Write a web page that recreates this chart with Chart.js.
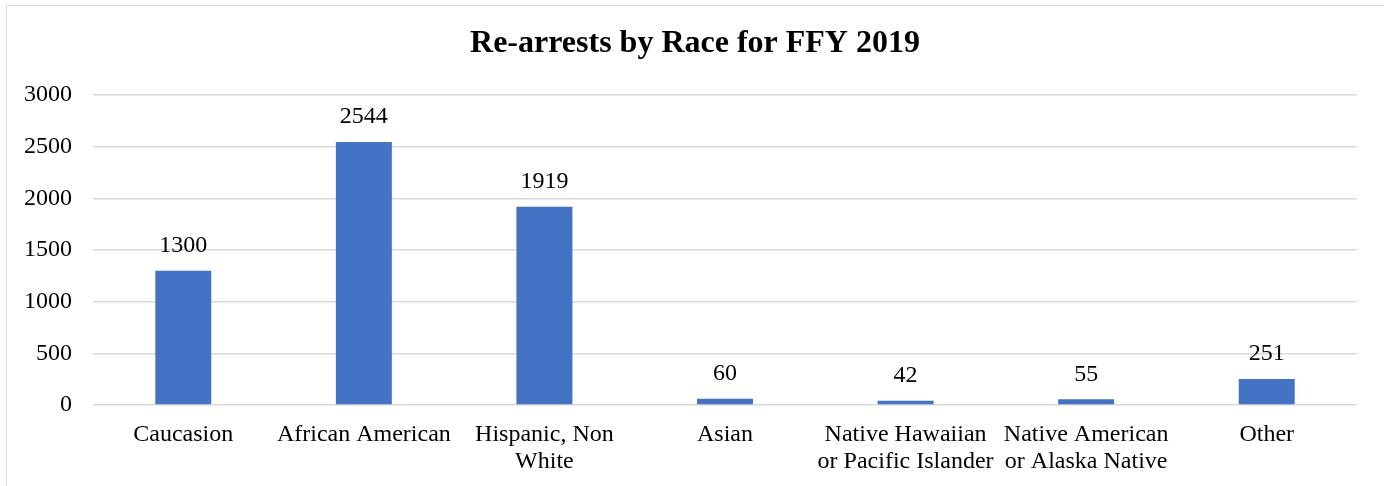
<!DOCTYPE html>
<html>
<head>
<meta charset="utf-8">
<script src="https://cdn.jsdelivr.net/npm/chart.js@4"></script>
<style>
  body { margin: 0; background: #fff; }
  #frame { position: absolute; left: 6px; top: 5px; width: 1400px; height: 520px; border: 1px solid #d9d9d9; }
  #wrap { position: absolute; left: 0; top: 0; width: 1384px; height: 486px; }
</style>
</head>
<body>
<div id="frame"></div>
<div id="wrap"><canvas id="myChart"></canvas></div>
<script>
'use strict';

// chart data

let categories = [
  'Caucasion',
  'African American',
  ['Hispanic, Non', 'White'],
  'Asian',
  ['Native Hawaiian', 'or Pacific Islander'],
  ['Native American', 'or Alaska Native'],
  'Other'
];
let rearrests = [1300, 2544, 1919, 60, 42, 55, 251];
let yTicks = [0, 500, 1000, 1500, 2000, 2500, 3000];
let chartTitle = 'Re-arrests by Race for FFY 2019';

const serif = "'Liberation Serif', 'Times New Roman', serif";

// title across the whole frame, plus the value above each bar
const valueLabels = {
  id: 'valueLabels',
  afterDatasetsDraw(chart) {
    const ctx = chart.ctx;
    const meta = chart.getDatasetMeta(0);
    ctx.save();
    ctx.fillStyle = '#000';
    ctx.textAlign = 'center';
    ctx.textBaseline = 'middle';

    ctx.font = 'bold 32px ' + serif;
    ctx.fillText(chartTitle, 695, 44);

    ctx.font = '24px ' + serif;
    meta.data.forEach((bar, i) => {
      ctx.fillText(String(rearrests[i]), bar.x, bar.y - 25);
    });
    ctx.restore();
  }
};

const ctx = document.getElementById('myChart').getContext('2d');

new Chart(ctx, {
  type: 'bar',
  data: {
    labels: categories,
    datasets: [{
      data: rearrests,
      backgroundColor: '#4472C4',
      categoryPercentage: 1,
      barPercentage: 0.31
    }]
  },
  options: {
    responsive: true,
    maintainAspectRatio: false,
    animation: false,
    layout: { padding: { left: 0, right: 27, top: 95, bottom: 0 } },
    plugins: {
      legend: { display: false },
      tooltip: { enabled: false },
      title: { display: false }
    },
    scales: {
      x: {
        afterFit: scale => {
          scale.height = 81;
        },
        grid: { display: false, drawTicks: false },
        border: { display: false },
        ticks: {
          color: '#000',
          font: { family: serif, size: 24, lineHeight: 1.12 },
          padding: 16,
          maxRotation: 0,
          autoSkip: false
        }
      },
      y: {
        min: 0,
        max: 3000,
        afterBuildTicks: scale => {
          scale.ticks = yTicks.map(v => ({ value: v }));
        },
        afterFit: scale => {
          scale.width = 93;
        },
        grid: { color: '#d9d9d9', lineWidth: 1.5, drawTicks: false },
        border: { display: false },
        ticks: {
          color: '#000',
          font: { family: serif, size: 24 },
          padding: 21,
          callback: v => String(v)
        }
      }
    }
  },
  plugins: [valueLabels]
});
</script>
</body>
</html>
